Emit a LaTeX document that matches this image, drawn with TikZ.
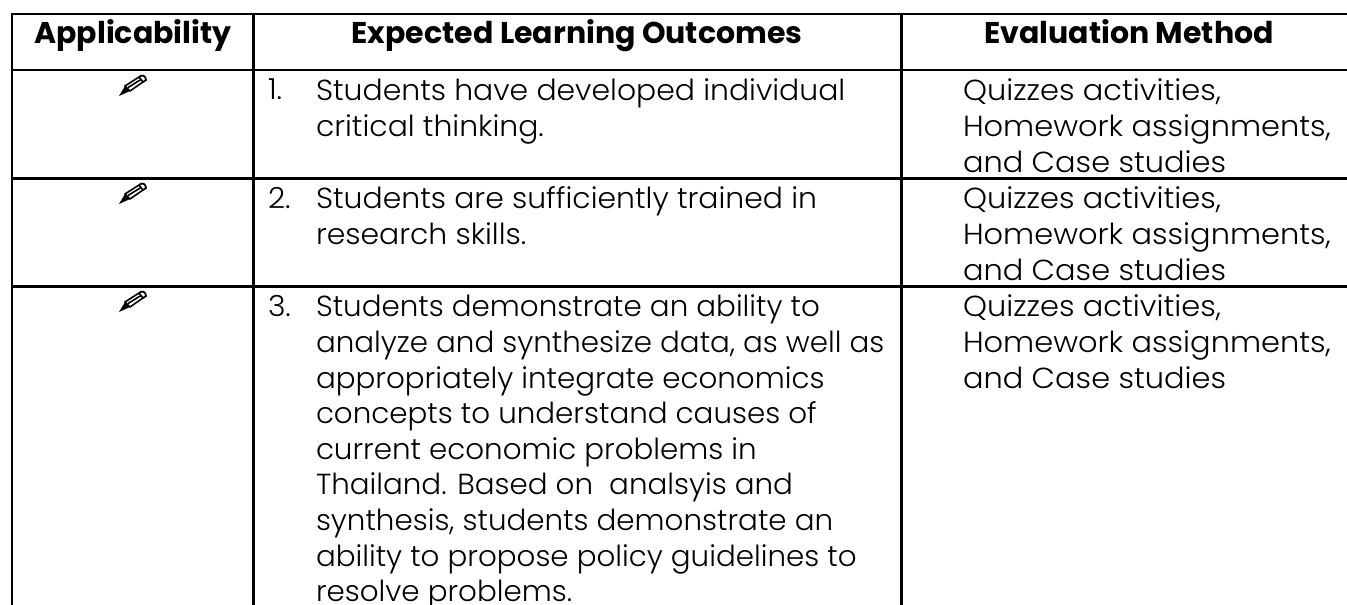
\documentclass[tikz,border=0pt]{standalone}
\usepackage{fontspec}
\setmainfont[FakeStretch=1.05]{Poppins Light}
\newfontfamily\headfont{Poppins Bold}
\newfontfamily\midfont[FakeStretch=1.03]{Poppins Light}
\newfontfamily\narrowfont[FakeStretch=1.012]{Poppins Light}
\tikzset{
  x=1pt,y=-1pt,
  gridline/.style={line width=2.7pt,black,line cap=rect},
  cell/.style={inner sep=0pt,outer sep=0pt,anchor=north west,align=left,font=\fontsize{29}{35.6}\selectfont,text=black},
  midcell/.style={cell,font=\midfont\fontsize{29}{35.6}\selectfont},
  narrowcell/.style={cell,font=\narrowfont\fontsize{29}{35.6}\selectfont},
  head/.style={inner sep=0pt,anchor=base,font=\headfont\fontsize{30}{36}\selectfont,text=black},
  pencilmark/.pic={
    \fill[black] (-14,11) -- (-8,1) -- (-3,6) -- cycle;
    \draw[line width=1.6pt,black,line join=round] (-8,1) -- (6,-8) -- (10,-3) -- (-3,6) -- cycle;
    \draw[line width=1.6pt,black] (-5,2.5) -- (8,-5.5);
    \draw[line width=1.8pt,black] (6,-8) .. controls (9,-11) and (13,-9) .. (13,-5) -- (10,-3);
  }
}
\begin{document}
\begin{tikzpicture}
\useasboundingbox (0,0) rectangle (1347,605);
\coordinate (tl) at (12,14);
\coordinate (tr) at (1347,14);
\coordinate (h1) at (12,70);
\coordinate (h1r) at (1347,70);
\coordinate (r1) at (12,178.5);
\coordinate (r1r) at (1347,178.5);
\coordinate (r2) at (12,286.5);
\coordinate (r2r) at (1347,286.5);
\coordinate (bl) at (12,605);
\coordinate (c1t) at (253.5,14);
\coordinate (c1b) at (253.5,605);
\coordinate (c2t) at (901.5,14);
\coordinate (c2b) at (901.5,605);
\draw[gridline] (tl) -- (tr);
\draw[gridline] (h1) -- (h1r);
\draw[gridline] (r1) -- (r1r);
\draw[gridline] (r2) -- (r2r);
\draw[gridline] (tl) -- (bl);
\draw[gridline] (c1t) -- (c1b);
\draw[gridline] (c2t) -- (c2b);
\node[head] (ha) at (133,43) {Applicability};
\node[head] (he) at (577,43) {Expected Learning Outcomes};
\node[head] (hm) at (1129,43) {Evaluation Method};
\pic at (133,85) {pencilmark};
\pic at (133,193) {pencilmark};
\pic at (133,301) {pencilmark};
\node[midcell] (n1) at (268,79) {1.};
\node[midcell] (n2) at (268,187) {2.};
\node[midcell] (n3) at (268,295) {3.};
\node[midcell] (t1) at (316,79) {Students have developed individual\\critical thinking.};
\node[midcell] (t2) at (316,187) {Students are sufficiently trained in\\research skills.};
\node[narrowcell] (t3) at (316,295) {Students demonstrate an ability to\\analyze and synthesize data, as well as\\appropriately integrate economics\\concepts to understand causes of\\current economic problems in\\Thailand. Based on\ \ analsyis and\\synthesis, students demonstrate an\\ability to propose policy guidelines to\\resolve problems.};
\node[cell] (e1) at (963,79) {Quizzes activities,\\Homework assignments,\\and Case studies};
\node[cell] (e2) at (963,187) {Quizzes activities,\\Homework assignments,\\and Case studies};
\node[cell] (e3) at (963,295) {Quizzes activities,\\Homework assignments,\\and Case studies};
\end{tikzpicture}
\end{document}
